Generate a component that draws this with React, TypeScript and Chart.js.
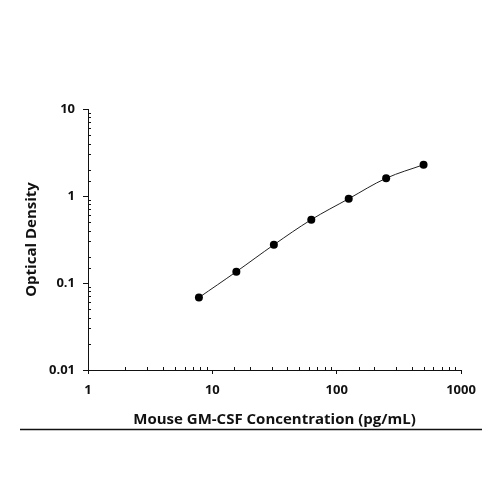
import React, { useEffect, useRef } from 'react';
import { Chart, registerables } from 'chart.js';

Chart.register(...registerables);

const concentrations = [7.8, 15.6, 31.25, 62.5, 125, 250, 500];
const opticalDensity = [0.068, 0.135, 0.275, 0.535, 0.93, 1.6, 2.29];
const xTickLabels = ['1', '10', '100', '1000'];
const yTickLabels = ['0.01', '0.1', '1', '10'];
const xTitle = 'Mouse GM-CSF Concentration (pg/mL)';
const yTitle = 'Optical Density';

const FONT = '"Open Sans", "DejaVu Sans", sans-serif';

function isDecade(v: number): boolean {
  const l = Math.log10(v);
  return Math.abs(l - Math.round(l)) < 1e-6;
}

function decadeLabel(v: number, labels: string[], minExp: number): string {
  if (!isDecade(v)) return '';
  const idx = Math.round(Math.log10(v)) - minExp;
  return labels[idx] ?? '';
}

const decorPlugin = {
  id: 'decor',
  afterDraw(chart: any) {
    const ctx = chart.ctx;
    const xs = chart.scales.x;
    const ys = chart.scales.y;
    const area = chart.chartArea;
    ctx.save();
    ctx.strokeStyle = '#111';
    ctx.lineWidth = 1;
    ctx.beginPath();
    for (const t of xs.ticks) {
      if (isDecade(t.value)) continue;
      const px = Math.round(xs.getPixelForValue(t.value)) + 0.5;
      ctx.moveTo(px, area.bottom);
      ctx.lineTo(px, area.bottom - 3);
    }
    for (const t of ys.ticks) {
      if (isDecade(t.value)) continue;
      const py = Math.round(ys.getPixelForValue(t.value)) + 0.5;
      ctx.moveTo(area.left, py);
      ctx.lineTo(area.left + 3, py);
    }
    ctx.stroke();
    // bottom rule
    ctx.lineWidth = 1.3;
    ctx.beginPath();
    ctx.moveTo(20, 429.5);
    ctx.lineTo(482, 429.5);
    ctx.stroke();
    ctx.restore();
  },
};

export default function App() {
  const ref = useRef<HTMLCanvasElement | null>(null);

  useEffect(() => {
    if (!ref.current) return;
    const chart = new Chart(ref.current, {
      type: 'line',
      data: {
        datasets: [
          {
            data: concentrations.map((x, i) => ({ x, y: opticalDensity[i] })),
            borderColor: '#222',
            borderWidth: 1,
            backgroundColor: '#000',
            pointBackgroundColor: '#000',
            pointBorderColor: '#000',
            pointRadius: 4,
            pointBorderWidth: 0,
            tension: 0.35,
            fill: false,
          },
        ],
      },
      plugins: [decorPlugin],
      options: {
        responsive: false,
        animation: false,
        layout: { padding: { top: 109, right: 39, left: 0, bottom: 0 } },
        plugins: { legend: { display: false }, tooltip: { enabled: false } },
        scales: {
          x: {
            type: 'logarithmic',
            min: 1,
            max: 1000,
            afterFit: (s: any) => {
              s.height = 130;
            },
            border: { display: true, color: '#111', width: 1 },
            grid: {
              display: true,
              drawOnChartArea: false,
              drawTicks: true,
              tickLength: 4,
              tickColor: (c: any) => (c.tick && isDecade(c.tick.value) ? '#111' : 'rgba(0,0,0,0)'),
            },
            ticks: {
              autoSkip: false,
              maxRotation: 0,
              padding: 8,
              color: '#111',
              font: { family: FONT, size: 13, weight: 'bold' },
              callback: (v: any) => decadeLabel(Number(v), xTickLabels, 0),
            },
            title: {
              display: true,
              text: xTitle,
              color: '#111',
              font: { family: FONT, size: 15, weight: 'bold' },
              padding: { top: 0, bottom: 71 },
            },
          },
          y: {
            type: 'logarithmic',
            min: 0.01,
            max: 10,
            afterFit: (s: any) => {
              s.width = 88;
            },
            border: { display: true, color: '#111', width: 1 },
            grid: {
              display: true,
              drawOnChartArea: false,
              drawTicks: true,
              tickLength: 5,
              tickColor: (c: any) => (c.tick && isDecade(c.tick.value) ? '#111' : 'rgba(0,0,0,0)'),
            },
            ticks: {
              autoSkip: false,
              padding: 8,
              color: '#111',
              font: { family: FONT, size: 13, weight: 'bold' },
              callback: (v: any) => decadeLabel(Number(v), yTickLabels, -2),
            },
            title: {
              display: true,
              text: yTitle,
              color: '#111',
              font: { family: FONT, size: 15, weight: 'bold' },
              padding: { top: 23, bottom: 0 },
            },
          },
        },
      },
    });
    return () => chart.destroy();
  }, []);

  return (
    <div style={{ position: 'fixed', left: 0, top: 0, width: 500, height: 500, background: '#fff' }}>
      <canvas ref={ref} width={500} height={500} />
    </div>
  );
}
